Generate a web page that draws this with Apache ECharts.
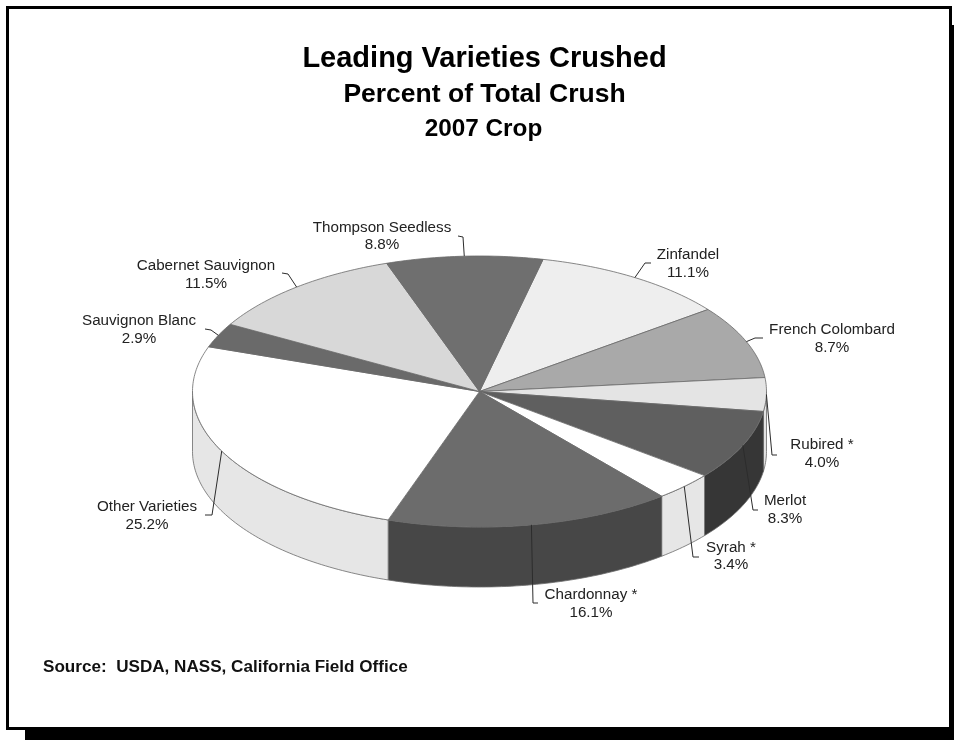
<!DOCTYPE html>
<html>
<head>
<meta charset="utf-8">
<title>Leading Varieties Crushed</title>
<style>
html,body{margin:0;padding:0;background:#fff;}
#main{width:954px;height:740px;}
</style>
<script src="https://cdn.jsdelivr.net/npm/echarts@6/dist/echarts.min.js"></script>
</head>
<body>
<div id="main"></div>
<script>
// values, clockwise from the Thompson/Zinfandel edge
var varieties = ['Zinfandel','French Colombard','Rubired *','Merlot','Syrah *','Chardonnay *','Other Varieties','Sauvignon Blanc','Cabernet Sauvignon','Thompson Seedless'];
var shares = [11.1,8.7,4.0,8.3,3.4,16.1,25.2,2.9,11.5,8.8];

// greys of the slice tops and of the side walls
var topColors = ['#eeeeee','#a9a9a9','#e4e4e4','#5f5f5f','#ffffff','#6c6c6c','#ffffff','#6a6a6a','#d8d8d8','#6f6f6f'];
var wallColors = ['#e0e0e0','#8a8a8a','#e2e2e2','#363636','#e6e6e6','#474747','#e6e6e6','#555555','#c0c0c0','#555555'];

// label centre x, name y, value y, leader elbow x,y, leader end x,y
var labelSpots = [
	[688,255,273,645,263,651,263],
	[832,330,348,755,338,763,338],
	[822,445,463,772,455,777,455],
	[785,501,519,753,510,758,510],
	[731,548,565,693,557,699,557],
	[591,595,613,533,603,538,603],
	[147,507,525,212,515,205,515],
	[139,321,339,211,330,205,329],
	[206,266,284,288,274,282,273],
	[382,228,245,463,237,458,236]
];

// the pie as it sits on the page
var cx = 479.5, cy = 391.5, rx = 287, ry = 135.5, depth = 60, startAngle = 12.8;

var total = 0;
for(var i = 0; i < shares.length; i++){
	total += shares[i];
}
// slice edges in degrees, clockwise from 12 o'clock
var edges = [startAngle];
for(var i = 0; i < shares.length; i++){
	edges.push(edges[i] + shares[i] / total * 360);
}

function rimPoint(deg, drop){
	var r = deg * Math.PI / 180;
	return [cx + rx * Math.sin(r), cy - ry * Math.cos(r) + (drop || 0)];
}

function arcPoints(from, to, drop){
	var pts = [];
	var n = Math.max(2, Math.ceil(Math.abs(to - from)));
	for(var k = 0; k <= n; k++){
		pts.push(rimPoint(from + (to - from) * k / n, drop));
	}
	return pts;
}

function renderSlice(params, api){
	var i = params.dataIndex;
	var a0 = edges[i], a1 = edges[i + 1];
	var children = [];
	// only the front half of the rim has a visible wall
	var w0 = Math.max(a0, 90), w1 = Math.min(a1, 270);
	if(w1 > w0){
		children.push({
			type: 'polygon',
			shape: {points: arcPoints(w0, w1, 0).concat(arcPoints(w1, w0, depth))},
			style: {fill: wallColors[i], stroke: '#6a6a6a', lineWidth: 0.8}
		});
	}
	children.push({
		type: 'polygon',
		shape: {points: [[cx, cy]].concat(arcPoints(a0, a1, 0))},
		style: {fill: topColors[i], stroke: '#6a6a6a', lineWidth: 0.8}
	});
	return {type: 'group', children: children};
}

function renderLabel(params, api){
	var i = params.dataIndex;
	var s = labelSpots[i];
	var font = '15.2px "Liberation Sans", Arial, sans-serif';
	return {
		type: 'group',
		children: [{
			type: 'polyline',
			shape: {points: [rimPoint((edges[i] + edges[i + 1]) / 2), [s[3], s[4]], [s[5], s[6]]]},
			style: {fill: 'none', stroke: '#2c2c2c', lineWidth: 1}
		},{
			type: 'text',
			style: {text: varieties[i], x: s[0], y: s[1], font: font, fill: '#222222', align: 'center', verticalAlign: 'middle'}
		},{
			type: 'text',
			style: {text: shares[i].toFixed(1) + '%', x: s[0], y: s[2], font: font, fill: '#222222', align: 'center', verticalAlign: 'middle'}
		}]
	};
}

var chart = echarts.init(document.getElementById('main'));
var boldFont = '"Liberation Sans", Arial, sans-serif';
var option = {
	animation: false,
	backgroundColor: '#ffffff',
	title: [
		{text: 'Leading Varieties Crushed', left: 484.5, top: 59, padding: 0, textAlign: 'center', textVerticalAlign: 'middle', textStyle: {fontFamily: boldFont, fontWeight: 'bold', fontSize: 29, color: '#000'}},
		{text: 'Percent of Total Crush', left: 484.5, top: 95, padding: 0, textAlign: 'center', textVerticalAlign: 'middle', textStyle: {fontFamily: boldFont, fontWeight: 'bold', fontSize: 26.5, color: '#000'}},
		{text: '2007 Crop', left: 483.5, top: 129, padding: 0, textAlign: 'center', textVerticalAlign: 'middle', textStyle: {fontFamily: boldFont, fontWeight: 'bold', fontSize: 24.3, color: '#000'}},
		{text: 'Source:  USDA, NASS, California Field Office', left: 43, top: 667, padding: 0, textVerticalAlign: 'middle', textStyle: {fontFamily: boldFont, fontWeight: 'bold', fontSize: 17.1, color: '#111'}}
	],
	graphic: [
		// page frame and its drop shadow
		{type: 'rect', shape: {x: 25, y: 730, width: 929, height: 10}, style: {fill: '#000'}},
		{type: 'rect', shape: {x: 952, y: 25, width: 2, height: 705}, style: {fill: '#000'}},
		{type: 'rect', shape: {x: 7.5, y: 7.5, width: 943, height: 721}, style: {fill: 'none', stroke: '#000', lineWidth: 3}}
	],
	series: [
		{type: 'custom', coordinateSystem: 'none', silent: true, z: 2, renderItem: renderSlice, data: shares},
		{type: 'custom', coordinateSystem: 'none', silent: true, z: 3, renderItem: renderLabel, data: shares}
	]
};
chart.setOption(option);
window.onresize = function(){
	chart.resize();
};
</script>
</body>
</html>
